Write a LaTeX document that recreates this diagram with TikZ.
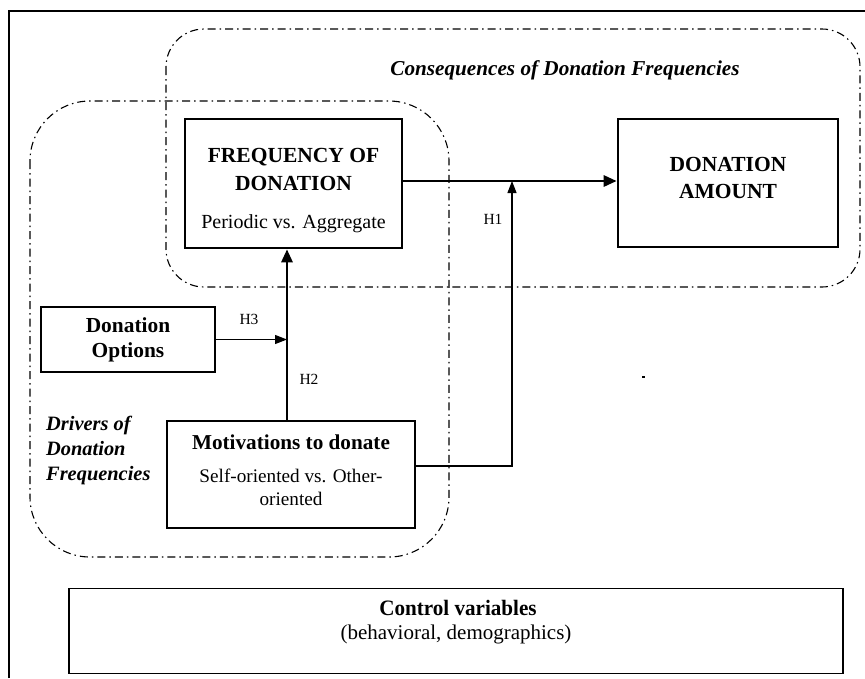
\documentclass[tikz,border=0pt]{standalone}
\usepackage{fontspec}
\setmainfont{Liberation Serif}
\usetikzlibrary{arrows.meta}
\begin{document}
\begin{tikzpicture}[x=1pt,y=-1pt,
  box/.style={draw,line width=1.2pt,inner sep=0pt},
  thickbox/.style={draw,line width=2.6pt,inner sep=0pt},
  group/.style={draw,line width=1.1pt,dash pattern=on 8pt off 4pt on 1.5pt off 4pt},
  thickarrow/.style={line width=2.8pt,-{Triangle[length=13pt,width=11pt]}},
  thinarrow/.style={line width=1.1pt,-{Triangle[length=12pt,width=9pt]}},
  lbl/.style={inner sep=0pt,font=\fontsize{15.5}{17}\selectfont},
  bt/.style={inner sep=0pt,font=\fontsize{21.5}{25}\selectfont\bfseries},
  nt/.style={inner sep=0pt,font=\fontsize{20}{23}\selectfont}]
\useasboundingbox (0,0) rectangle (865,678);
% outer frame
\draw[line width=1.2pt] (9,678) -- (9,11) -- (865,11);
% groups
\draw[group,rounded corners=38pt] (166,29) rectangle (860,287);
\draw[group,rounded corners=60pt] (30,101) rectangle (449,557);
\node[inner sep=0pt,font=\fontsize{21.2}{24}\selectfont\bfseries\itshape] (cons) at (565,70) {Consequences of Donation Frequencies};
\node[inner sep=0pt,align=left,anchor=west,font=\fontsize{20.4}{25}\selectfont\bfseries\itshape] (drv) at (46,450) {Drivers of\\Donation\\Frequencies};
% boxes
\node[thickbox,minimum width=217pt,minimum height=129pt] (freq) at (293.5,183.5) {};
\node[bt] (freqt1) at (293.5,157) {FREQUENCY OF};
\node[bt] (freqt2) at (293.5,183) {DONATION};
\node[nt] (freqt3) at (293.5,224) {Periodic vs. Aggregate};
\node[thickbox,minimum width=220pt,minimum height=128pt] (amount) at (728,183) {};
\node[bt,align=center,font=\fontsize{21.5}{27}\selectfont\bfseries] (amountt) at (728,178) {DONATION\\AMOUNT};
\node[box,minimum width=174pt,minimum height=65pt] (options) at (128,339.5) {};
\node[bt,align=center,font=\fontsize{21.4}{25}\selectfont\bfseries] (optionst) at (128,340) {Donation\\Options};
\node[box,minimum width=248pt,minimum height=107pt] (motiv) at (291,474.5) {};
\node[bt,font=\fontsize{21.2}{24}\selectfont\bfseries] (motivt) at (291,442) {Motivations to donate};
\node[nt,align=center,font=\fontsize{19.2}{23}\selectfont] (motivs) at (291,487) {Self-oriented vs. Other-\\oriented};
\node[box,minimum width=774pt,minimum height=85pt] (control) at (456,631) {};
\node[inner sep=0pt,font=\fontsize{22}{24}\selectfont\bfseries,xscale=0.96] (controlt) at (458,608) {Control variables};
\node[nt,font=\fontsize{21}{23}\selectfont] (controls) at (456,634) {(behavioral, demographics)};
% connectors
\coordinate (h2x) at (287,0);
\coordinate (h1x) at (512,0);
\coordinate (h1y) at (0,466);
\coordinate (ay) at (0,181);
\draw[thickarrow] (freq.east |- ay) -- (amount.west |- ay);
\draw[thickarrow] (motiv.north -| h2x) -- (freq.south -| h2x);
\draw[thinarrow] (options.east) -- (options.east -| h2x);
\draw[thinarrow] (motiv.east |- h1y) -- (h1x |- h1y) -- (h1x |- ay);
% labels
\node[lbl] (h1) at (493,219) {H1};
\node[lbl] (h2) at (309,379) {H2};
\node[lbl] (h3) at (249,319) {H3};
\fill (642,375.5) rectangle (645,377.5);
\end{tikzpicture}
\end{document}
